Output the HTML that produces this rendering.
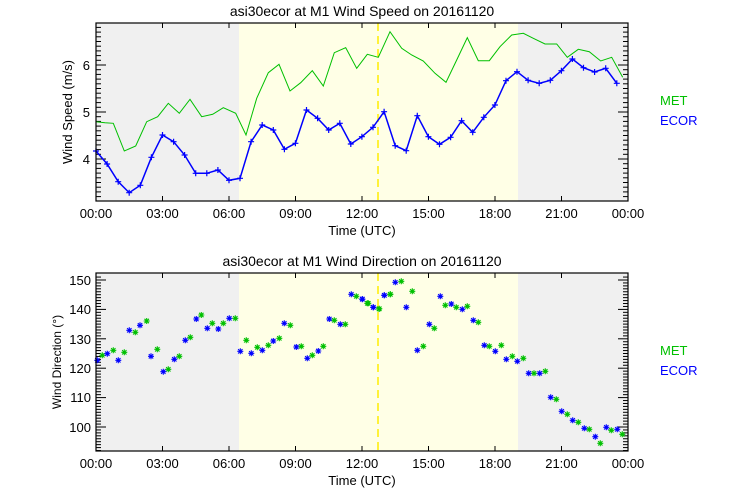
<!DOCTYPE html>
<html><head><meta charset="utf-8"><style>
html,body{margin:0;padding:0;background:#fff}
svg{display:block;font-family:"Liberation Sans","DejaVu Sans",sans-serif}
</style></head><body>
<svg id="c" width="740" height="500" viewBox="0 0 740 500" xmlns="http://www.w3.org/2000/svg">
<defs>
<g id="ast"><path d="M-3,0H3M0,-3V3M-2.2,-2.2L2.2,2.2M-2.2,2.2L2.2,-2.2" stroke-width="1.1"/></g>
<g id="plus"><path d="M-3,0H3M0,-3V3" stroke="#0000ff" stroke-width="1.2"/></g>
</defs>
<rect x="96" y="23" width="143" height="178" fill="#f0f0f0"/>
<rect x="239" y="23" width="279" height="178" fill="#ffffe6"/>
<rect x="518" y="23" width="110" height="178" fill="#f0f0f0"/>
<line x1="378" y1="23" x2="378" y2="201" stroke="#ffee00" stroke-width="1.5" stroke-dasharray="8,5"/>
<rect x="96" y="273" width="143" height="178" fill="#f0f0f0"/>
<rect x="239" y="273" width="279" height="178" fill="#ffffe6"/>
<rect x="518" y="273" width="110" height="178" fill="#f0f0f0"/>
<line x1="378" y1="273" x2="378" y2="451" stroke="#ffee00" stroke-width="1.5" stroke-dasharray="8,5"/>
<g id="ticks" stroke="#000" stroke-width="1"></g>
<polyline id="met" fill="none" stroke="#00c000" stroke-width="1" points=""/>
<polyline id="ecor" fill="none" stroke="#0000ff" stroke-width="1.5" points=""/>
<g id="pl"></g>
<g id="sc"></g>
<rect x="96" y="23" width="532" height="178" fill="none" stroke="#000" stroke-width="1.2"/>
<rect x="96" y="273" width="532" height="178" fill="none" stroke="#000" stroke-width="1.2"/>
<g font-size="13" fill="#000">
<text x="362" y="16" text-anchor="middle" font-size="14">asi30ecor at M1 Wind Speed on 20161120</text>
<text x="362" y="266" text-anchor="middle" font-size="14">asi30ecor at M1 Wind Direction on 20161120</text>
<g text-anchor="middle">
<text x="96" y="218">00:00</text><text x="162.5" y="218">03:00</text><text x="229" y="218">06:00</text><text x="295.5" y="218">09:00</text><text x="362" y="218">12:00</text><text x="428.5" y="218">15:00</text><text x="495" y="218">18:00</text><text x="561.5" y="218">21:00</text><text x="628" y="218">00:00</text>
<text x="96" y="468">00:00</text><text x="162.5" y="468">03:00</text><text x="229" y="468">06:00</text><text x="295.5" y="468">09:00</text><text x="362" y="468">12:00</text><text x="428.5" y="468">15:00</text><text x="495" y="468">18:00</text><text x="561.5" y="468">21:00</text><text x="628" y="468">00:00</text>
<text x="362" y="235">Time (UTC)</text>
<text x="362" y="485">Time (UTC)</text>
</g>
<g text-anchor="end">
<text x="90" y="70">6</text><text x="90" y="117">5</text><text x="90" y="164">4</text>
<text x="91" y="285">150</text><text x="91" y="314">140</text><text x="91" y="344">130</text><text x="91" y="373">120</text><text x="91" y="402">110</text><text x="91" y="432">100</text>
</g>
<text transform="translate(72,112) rotate(-90)" text-anchor="middle">Wind Speed (m/s)</text>
<text transform="translate(61,362) rotate(-90)" text-anchor="middle" font-size="12">Wind Direction (°)</text>
<text x="660" y="105" fill="#00c000">MET</text>
<text x="660" y="125" fill="#0000ff">ECOR</text>
<text x="660" y="355" fill="#00c000">MET</text>
<text x="660" y="375" fill="#0000ff">ECOR</text>
</g>
</svg>
<script>
var NS="http://www.w3.org/2000/svg";
function el(p,t,a){var e=document.createElementNS(NS,t);for(var k in a)e.setAttribute(k,a[k]);p.appendChild(e);return e;}
var tk=document.getElementById("ticks");
function ln(x1,y1,x2,y2){el(tk,"line",{x1:x1,y1:y1,x2:x2,y2:y2});}
for(var h=0;h<=24;h+=3){var x=96+h*532/24;ln(x,201,x,196);ln(x,23,x,28);ln(x,451,x,446);ln(x,273,x,278);}
for(var i=32;i<=68;i++){var v=i/10,y=112-(v-5)*47;var L=(i%10==0)?10:5;ln(96,y,96+L,y);ln(628,y,628-L,y);}
for(var d=92;d<=151;d++){var y=280-(d-150)*2.94;var L=(d%10==0)?10:5;ln(96,y,96+L,y);ln(628,y,628-L,y);}
var by=[151,164,181.7,192.7,185.3,157.3,135,141.7,155,173.3,173.3,170,180.3,178.3,141.7,125,130,149.3,143.3,110,118.3,130,123.3,144,136.7,127.3,111.7,145.7,150.7,115.7,136.7,144.3,137.3,120.7,132.3,117.3,105,80.7,71.7,80.3,83.3,80.3,70.7,59,67.7,72,68.3,83.3];
var pts=[],pl=document.getElementById("pl");
for(var i=0;i<by.length;i++){var x=96+i*11.08;pts.push(x.toFixed(1)+","+by[i]);el(pl,"use",{href:"#plus",x:x.toFixed(1),y:by[i]});}
document.getElementById("ecor").setAttribute("points",pts.join(" "));
var g1=[[108,365],[135,368],[160,370],[193,453],[227,438],[260,365],[293,350],[325,310],[358,340],[390,298],[425,350],[458,343],[490,323],[527,340],[558,405],[590,295],[625,218],[657,193],[690,273],[722,248],[757,212],[790,258],[823,158],[857,143],[890,205],[922,163],[955,172]];
var g2=[[90,95],[125,145],[155,165],[190,183],[225,220],[258,247],[290,180],[322,113],[355,182],[388,182],[420,140],[455,105],[490,100],[520,115],[555,132],[590,132],[622,172],[655,148],[688,155],[722,183],[755,172],[788,232]];
var mp=[];g1.forEach(function(p){mp.push((p[0]/3+60).toFixed(1)+","+(p[1]/3).toFixed(1));});
g2.forEach(function(p){mp.push((p[0]/3+360).toFixed(1)+","+(p[1]/3).toFixed(1));});
document.getElementById("met").setAttribute("points",mp.join(" "));
var sc=document.getElementById("sc");
function put(arr,ox,col){arr.forEach(function(p){el(sc,"use",{href:"#ast",x:(p[0]/3+ox).toFixed(1),y:(p[1]/3+250).toFixed(1),stroke:col});});}
put([[127,316],[160,301],[193,307],[226,247],[260,213],[292,298],[325,358],[358,319],[391,262],[424,195],[457,220],[490,220],[526,205],[559,271],[592,292],[625,286],[658,265],[691,226],[724,289],[757,316],[790,289],[823,211],[856,223],[889,139],[922,160],[957,177],[991,133]],60,"#00c000");
put([[112,331],[142,311],[175,331],[208,241],[240,226],[273,319],[310,365],[343,328],[376,271],[409,207],[442,235],[475,237],[508,205],[541,304],[574,310],[607,301],[640,273],[673,220],[709,291],[742,325],[775,303],[808,207],[841,223],[874,133],[907,148],[940,172],[973,136]],60,"#0000ff");
put([[25,160],[58,176],[91,133],[124,94],[157,124],[190,289],[223,235],[256,166],[289,172],[322,169],[355,217],[388,289],[424,286],[457,319],[490,325],[522,370],[556,364],[589,448],[622,493],[655,517],[688,538],[721,580],[754,541],[787,553]],360,"#00c000");
put([[7,147],[40,172],[73,136],[106,97],[139,172],[172,301],[208,223],[241,139],[274,162],[307,178],[340,211],[373,286],[406,304],[439,328],[472,334],[506,370],[539,370],[572,442],[605,484],[638,511],[673,535],[706,560],[739,532],[772,538]],360,"#0000ff");
</script>
</body></html>
